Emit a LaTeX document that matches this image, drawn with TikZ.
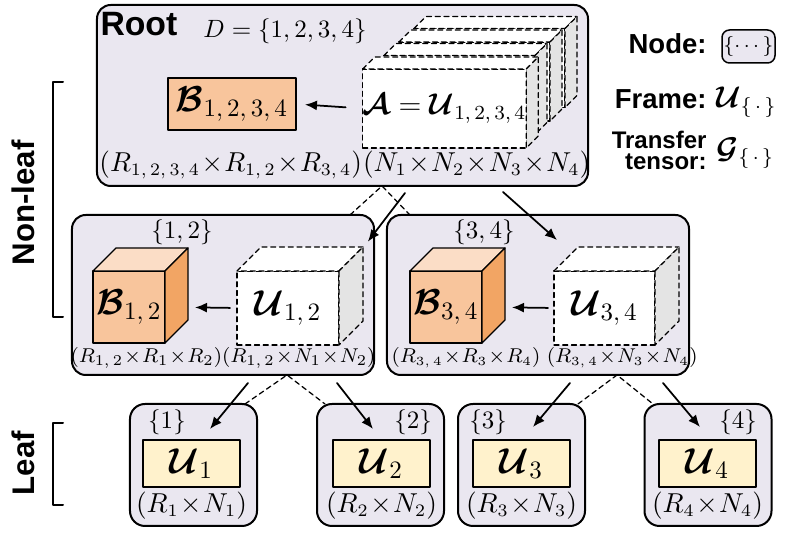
\documentclass[tikz,border=0pt]{standalone}
\usepackage{amsmath,bm}
\usepackage{fontspec}
\setsansfont{Liberation Sans}
\usetikzlibrary{arrows.meta,calc}
\definecolor{nodebg}{HTML}{EAE7F0}
\definecolor{core}{HTML}{F8C59C}
\definecolor{coretop}{HTML}{FBDDC6}
\definecolor{coreside}{HTML}{F2A564}
\definecolor{leaffill}{HTML}{FFF2CC}
\definecolor{sideface}{HTML}{E4E4E4}
\newcommand{\tightx}{\medmuskip=1mu\relax}
% top and side faces of a box drawn on a node
\newcommand{\boxfaces}[5]{%
  \filldraw[#5,fill=#3] (#1.north west) -- ++(#2,-#2) -- ($(#1.north east)+(#2,-#2)$) -- (#1.north east) -- cycle;
  \filldraw[#5,fill=#4] (#1.north east) -- ++(#2,-#2) -- ($(#1.south east)+(#2,-#2)$) -- (#1.south east) -- cycle;}

\begin{document}
\begin{tikzpicture}[x=0.4pt,y=-0.4pt,line cap=round,line join=round,
  treebox/.style={draw,line width=0.8pt,fill=nodebg,rounded corners=5.5pt,outer sep=0pt},
  corebox/.style={draw,line width=0.5pt,fill=core,inner sep=0pt,outer sep=0pt},
  framebox/.style={draw,line width=0.5pt,fill=white,broken,inner sep=0pt,outer sep=0pt},
  leafbox/.style={draw,line width=0.5pt,fill=leaffill,inner sep=0pt,outer sep=0pt},
  broken/.style={dash pattern=on 2pt off 1.5pt},
  flow/.style={-{Latex[length=4.8pt,width=4pt]},line width=0.7pt},
  link/.style={broken,line width=0.5pt},
  tag/.style={font=\fontsize{11}{13}\selectfont\bfseries\sffamily},
  dims/.style={inner sep=0pt,font=\fontsize{10.5}{12}\selectfont\tightx}]
  \useasboundingbox (0,0) rectangle (788,538);

  % root
  \node[treebox,minimum width=196.4pt,minimum height=72.4pt] (root) at (342.5,95.5) {};
  \node[tag,font=\fontsize{13.5}{15}\selectfont\bfseries\sffamily,anchor=west,inner sep=0pt] (rootlbl) at (100,24) {Root};
  \node[inner sep=0pt] (dset) at (285,31) {$D=\{1,2,3,4\}$};
  \node[corebox,minimum width=51.2pt,minimum height=20.8pt] (B1234) at (232,104)
    {\Large$\bm{\mathcal{B}}_{1,\,2,\,3,\,4}$};
  \foreach \k in {3,2,1} {
    \node[framebox,minimum width=60.4pt,minimum height=31.6pt] (lay\k) at (444.5+15*\k,108.5-13.5*\k) {};
    \boxfaces{lay\k}{12}{white}{sideface}{line width=0.5pt,broken}
  }
  \node[framebox,minimum width=60.4pt,minimum height=31.6pt] (A) at (444.5,108.5)
    {\large$\bm{\mathcal{A}}=\bm{\mathcal{U}}_{1,\,2,\,3,\,4}$};
  \boxfaces{A}{12}{white}{sideface}{line width=0.5pt,broken}
  \draw[flow,shorten <=6.8pt,shorten >=3.6pt] (A.west) -- (B1234.east);
  \node[dims,font=\fontsize{10.6}{12}\selectfont\tightx,anchor=west] (dimsR) at (99,165)
    {$(R_{1,\,2,\,3,\,4}\times R_{1,\,2}\times R_{3,\,4})$};
  \node[dims,font=\fontsize{10.6}{12}\selectfont\tightx,anchor=west] (dimsN) at (dimsR.east)
    {$(N_1\times N_2\times N_3\times N_4)$};

  % non-leaf {1,2}
  \node[treebox,minimum width=120.8pt,minimum height=64pt] (m12) at (223,295) {};
  \node[inner sep=0pt] (s12) at (182,232) {$\{1,2\}$};
  \node[corebox,minimum width=28.8pt,minimum height=28.8pt] (B12) at (129,307)
    {\Large$\bm{\mathcal{B}}_{1,\,2}$};
  \boxfaces{B12}{23}{coretop}{coreside}{line width=0.5pt}
  \node[framebox,minimum width=40.8pt,minimum height=29.6pt] (U12) at (288,308)
    {\Large$\bm{\mathcal{U}}_{1,\,2}$};
  \boxfaces{U12}{24}{white}{sideface}{line width=0.5pt,broken}
  \draw[flow,shorten <=2.8pt,shorten >=12pt] (U12.west) -- (B12.east);
  \node[dims,font=\fontsize{8.4}{10}\selectfont\tightx] (d12) at (223,358)
    {$(R_{1,\,2}\times R_1\times R_2)(R_{1,\,2}\times N_1\times N_2)$};

  % non-leaf {3,4}
  \node[treebox,minimum width=120.8pt,minimum height=64pt] (m34) at (538,295) {};
  \node[inner sep=0pt] (s34) at (484,232) {$\{3,4\}$};
  \node[corebox,minimum width=28.8pt,minimum height=28.8pt] (B34) at (446,307)
    {\Large$\bm{\mathcal{B}}_{3,\,4}$};
  \boxfaces{B34}{23}{coretop}{coreside}{line width=0.5pt}
  \node[framebox,minimum width=40.4pt,minimum height=29.6pt] (U34) at (604.5,308)
    {\Large$\bm{\mathcal{U}}_{3,\,4}$};
  \boxfaces{U34}{24}{white}{sideface}{line width=0.5pt,broken}
  \draw[flow,shorten <=2.4pt,shorten >=12pt] (U34.west) -- (B34.east);
  \node[dims,font=\fontsize{7.7}{10}\selectfont\tightx,anchor=west] (d34a) at (391,358)
    {$(R_{3,\,4}\times R_3\times R_4)$};
  \node[dims,font=\fontsize{7.7}{10}\selectfont\tightx,anchor=west] (d34b) at ([xshift=2.2pt]d34a.east)
    {$(R_{3,\,4}\times N_3\times N_4)$};

  % leaves
  \foreach \n/\cx/\ux/\sx in {1/193.5/191.5/167,2/380.5/381.5/413,3/521.5/521.5/488,4/708/707.5/738} {
    \node[treebox,rounded corners=6pt,minimum width=50.8pt,minimum height=48.8pt] (leaf\n) at (\cx,465) {};
    \node[inner sep=0pt] (s\n) at (\sx,422) {$\{\n\}$};
    \node[leafbox,minimum width=38.8pt,minimum height=18.8pt] (U\n) at (\ux,463.5)
      {\Large$\bm{\mathcal{U}}_{\n}$};
    \node[dims] (d\n) at (\ux,506) {$(R_{\n}\times N_{\n})$};
  }

  % tree links
  \draw[link] ($(m12.north east)+(-24,0)$) -- ($(root.south)+(39.5,0)$) -- ($(m34.north west)+(23,0)$);
  \draw[flow,shorten >=3.2pt] ($(root.south)+(62.5,7)$) -- ($(U12.north east)+(24,-23)$);
  \draw[flow] ($(root.south)+(160.5,6)$) -- ($(U34.north west)+(3,-31)$);
  \draw[link] ($(leaf1.north east)+(-12,0)$) -- ($(m12.south)+(64,0)$) -- ($(leaf2.north west)+(8,0)$);
  \draw[flow] ($(m12.south)+(25,8)$) -- ($(leaf1.north)+(16.5,25)$);
  \draw[flow] ($(m12.south)+(114,8)$) -- ($(leaf2.north)+(-7.5,25)$);
  \draw[link] ($(leaf3.north east)+(-7,0)$) -- ($(m34.south)+(79,0)$) -- ($(leaf4.north west)+(8.5,0)$);
  \draw[flow] ($(m34.south)+(32,8)$) -- ($(leaf3.north)+(11.5,23)$);
  \draw[flow] ($(m34.south)+(125,8)$) -- ($(leaf4.north)+(-8,23)$);

  % level brackets
  \draw[line width=0.8pt] (63,82) -- (53,82) -- (53,317) -- (63,317);
  \node[tag,font=\fontsize{12.5}{14}\selectfont\bfseries\sffamily,rotate=90] (nonleaf) at (23,203) {Non-leaf};
  \draw[line width=0.8pt] (63,423) -- (53,423) -- (53,505) -- (63,505);
  \node[tag,font=\fontsize{12.5}{14}\selectfont\bfseries\sffamily,rotate=90] (leaflbl) at (23,463) {Leaf};

  % legend
  \node[tag,anchor=east,inner sep=0pt] (keynode) at (707,44) {Node:};
  \node[treebox,rounded corners=3pt,line width=0.6pt,minimum width=21.2pt,minimum height=13.2pt,inner sep=0pt]
    (keybox) at (748.5,46.5) {\footnotesize$\{\cdots\}$};
  \node[tag,anchor=east,inner sep=0pt] (keyframe) at (707,99) {Frame:};
  \node[anchor=west,inner sep=0pt] (keyU) at (716,102) {\large$\bm{\mathcal{U}}_{\{\,\cdot\,\}}$};
  \node[tag,font=\fontsize{9.6}{8.4}\selectfont\bfseries\sffamily,align=right,anchor=east,inner sep=0pt]
    (keytt) at (707,150) {Transfer\\tensor:};
  \node[anchor=west,inner sep=0pt] (keyG) at (716,153) {\large$\bm{\mathcal{G}}_{\{\,\cdot\,\}}$};
\end{tikzpicture}
\end{document}
